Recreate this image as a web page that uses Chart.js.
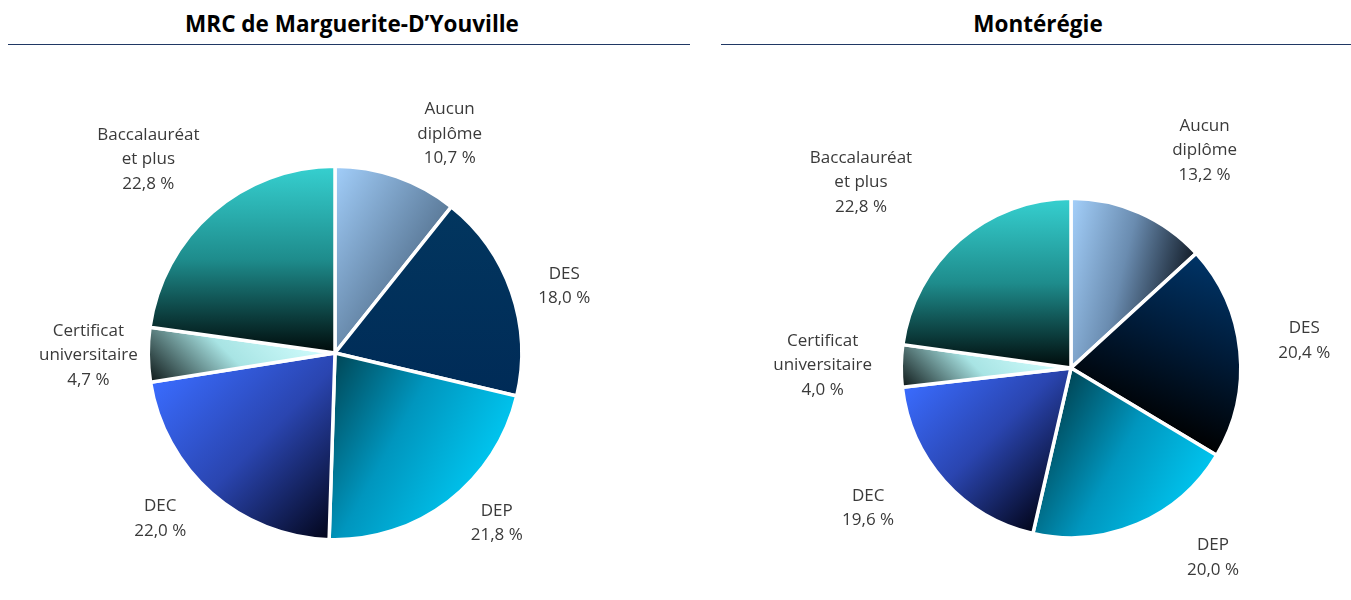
<!DOCTYPE html>
<html><head><meta charset="utf-8">
<script src="https://cdn.jsdelivr.net/npm/chart.js@4.4.1/dist/chart.umd.min.js"></script>
<style>
body{margin:0;width:1351px;height:600px;background:#fff;position:relative;overflow:hidden;font-family:'Open Sans',sans-serif}
.title{position:absolute;top:9px;font-weight:bold;font-size:22.5px;text-align:center;color:#000;line-height:30px}
.rule{position:absolute;top:44px;height:0;border-top:1.5px solid #203864}
.box{position:absolute;top:50px}
canvas{display:block}
</style></head><body>
<div class="title" style="left:8px;width:688px">MRC de Marguerite-D’Youville</div>
<div class="rule" style="left:8px;width:682px"></div>
<div class="title" style="left:721px;width:634px">Montérégie</div>
<div class="rule" style="left:721px;width:630px"></div>
<div class="box" style="left:0px"><canvas id="c1" width="690" height="550"></canvas></div>
<div class="box" style="left:690px"><canvas id="c2" width="661" height="550"></canvas></div>
<script>
// ---- data ----
const categories = ['Aucun diplôme', 'DES', 'DEP', 'DEC', 'Certificat universitaire', 'Baccalauréat et plus'];
const labelLines = [['Aucun', 'diplôme'], ['DES'], ['DEP'], ['DEC'], ['Certificat', 'universitaire'], ['Baccalauréat', 'et plus']];
const mrcValues = [10.7, 18.0, 21.8, 22.0, 4.7, 22.8];
const monteregieValues = [13.2, 20.4, 20.0, 19.6, 4.0, 22.8];

// ---- styles ----
const mrcGradients = [
  {dir: [1, 0.6], stops: ['#a2cefa', '#5c7b9a']},
  {dir: [0, 1], stops: ['#02365f', '#002b57']},
  {dir: [1, 0.55], stops: ['#004656', '#0096be', '#00c4ee']},
  {dir: [1, 1], stops: ['#3a6cff', '#2a45b0', '#02051a']},
  {dir: [-1, 1], stops: ['#d4ffff', '#a8e4e4', '#0e1818']},
  {dir: [0, 1], stops: ['#36d0d0', '#1e8c8c', '#000a0a']}
];
const monGradients = [
  {dir: [1, 0.25], stops: ['#a4d0fb', '#6a8cb0', '#121c28']},
  {dir: [-0.4, 1], stops: ['#003467', '#001a36', '#000000']},
  {dir: [1, 0.55], stops: ['#004656', '#0096be', '#00c4ee']},
  {dir: [1, 1], stops: ['#3a6cff', '#2a45b0', '#02051a']},
  {dir: [-1, 1], stops: ['#d4ffff', '#a8e4e4', '#0e1818']},
  {dir: [0, 1], stops: ['#36d0d0', '#1e8c8c', '#000a0a']}
];
const mrcNudges = [[34, 12], [-2, 13], [13, -24], [-13, -18], [-2, 0], [-26, -9]];
const monNudges = [[44, -14], [12, -5], [55, -15], [-37, -8], [-26, 0], [-64, -18]];

function fmt(v) { return v.toFixed(1).replace('.', ',') + ' %'; }

function makePlugins(specs, nudges) {
  return [{
    id: 'grad',
    beforeDatasetsDraw(chart) {
      const ctx = chart.ctx;
      chart.getDatasetMeta(0).data.forEach((arc, i) => {
        const p = arc.getProps(['x', 'y', 'startAngle', 'endAngle', 'outerRadius'], true);
        let [dx, dy] = specs[i].dir; const n = Math.hypot(dx, dy); dx /= n; dy /= n;
        let mn = 0, mx = 0;
        for (let k = 0; k <= 32; k++) {
          const a = p.startAngle + (p.endAngle - p.startAngle) * k / 32;
          const pr = Math.cos(a) * p.outerRadius * dx + Math.sin(a) * p.outerRadius * dy;
          mn = Math.min(mn, pr); mx = Math.max(mx, pr);
        }
        const g = ctx.createLinearGradient(p.x + dx * mn, p.y + dy * mn, p.x + dx * mx, p.y + dy * mx);
        const st = specs[i].stops;
        st.forEach((c, j) => g.addColorStop(j / (st.length - 1), c));
        arc.options = Object.assign({}, arc.options, {backgroundColor: g});
      });
    },
    afterDatasetsDraw(chart) {
      const ctx = chart.ctx;
      const vals = chart.data.datasets[0].data;
      ctx.save();
      ctx.font = '17px "Open Sans", sans-serif';
      ctx.fillStyle = '#3a3a3a';
      ctx.textAlign = 'center';
      ctx.textBaseline = 'middle';
      chart.getDatasetMeta(0).data.forEach((arc, i) => {
        const p = arc.getProps(['x', 'y', 'startAngle', 'endAngle', 'outerRadius'], true);
        const mid = (p.startAngle + p.endAngle) / 2;
        const D = p.outerRadius * 1.31;
        const cx = p.x + Math.cos(mid) * D + nudges[i][0];
        const cy = p.y + Math.sin(mid) * D + nudges[i][1];
        const lines = labelLines[i].concat([fmt(vals[i])]);
        const lh = 24.5;
        lines.forEach((t, k) => ctx.fillText(t, cx, cy - (lines.length - 1) * lh / 2 + k * lh));
      });
      ctx.restore();
    }
  }];
}

function makeChart(id, values, padding, specs, nudges) {
  return new Chart(document.getElementById(id), {
    type: 'pie',
    data: {
      labels: categories,
      datasets: [{
        data: values,
        backgroundColor: () => '#000',
        borderColor: '#ffffff',
        borderWidth: 3.5
      }]
    },
    options: {
      responsive: false,
      animation: false,
      layout: {padding: padding},
      plugins: {legend: {display: false}, tooltip: {enabled: false}}
    },
    plugins: makePlugins(specs, nudges)
  });
}

makeChart('c1', mrcValues, {left: 146.5, top: 114.5, right: 166.5, bottom: 58.5}, mrcGradients, mrcNudges);
makeChart('c2', monteregieValues, {left: 209.5, top: 146.5, right: 108.5, bottom: 60.5}, monGradients, monNudges);
</script>
</body></html>
